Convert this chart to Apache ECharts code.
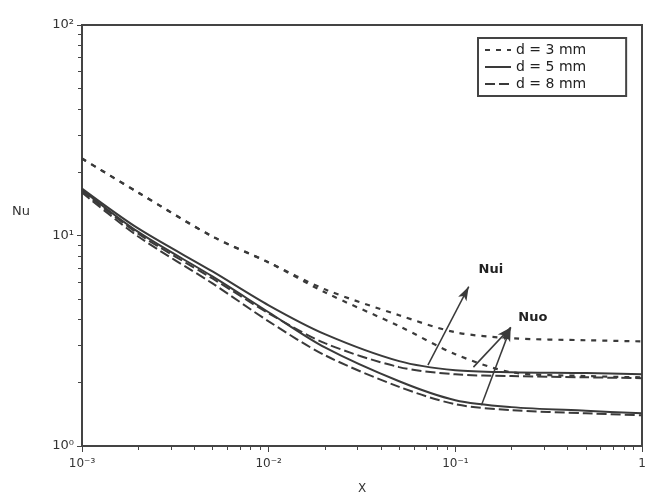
<!DOCTYPE html>
<html><head><meta charset="utf-8">
<script src="https://cdn.jsdelivr.net/npm/echarts@6/dist/echarts.min.js"></script>
<style>html,body{margin:0;padding:0;background:#fff}#c{width:653px;height:504px}</style>
</head><body><div id="c"></div>
<script>
// x positions (X)
const xs = [0.001, 0.002, 0.005, 0.01, 0.02, 0.05, 0.1, 0.2, 0.5, 1];
// Nu values
const nui3 = [23.2, 16.0, 9.89, 7.45, 5.55, 4.18, 3.47, 3.25, 3.18, 3.14];
const nuo3 = [23.2, 16.0, 9.89, 7.45, 5.37, 3.71, 2.73, 2.24, 2.15, 2.12];
const nui5 = [16.7, 10.8, 6.75, 4.66, 3.40, 2.53, 2.29, 2.24, 2.22, 2.19];
const nuo5 = [16.5, 10.4, 6.39, 4.32, 2.94, 2.03, 1.65, 1.53, 1.47, 1.43];
const nui8 = [16.3, 10.2, 6.25, 4.27, 3.08, 2.37, 2.19, 2.15, 2.12, 2.10];
const nuo8 = [16.0, 9.89, 5.92, 3.91, 2.70, 1.91, 1.58, 1.48, 1.43, 1.40];
const legendNames = ['d = 3 mm', 'd = 5 mm', 'd = 8 mm'];
const xTickLabels = {'0.001': '10\u207B\u00B3', '0.01': '10\u207B\u00B2', '0.1': '10\u207B\u00B9', '1': '1'};
const yTickLabels = {'1': '10\u2070', '10': '10\u00B9', '100': '10\u00B2'};
// annotation arrows (data space)
const nuiLabel = [0.155, 6.9];
const nuiArrow = [[0.118, 5.72], [0.0713, 2.42]];
const nuoLabel = [0.26, 4.08];
const nuoArrows = [[[0.198, 3.66], [0.125, 2.37]], [[0.198, 3.66], [0.138, 1.56]]];

const pair = ys => xs.map((x, i) => [x, ys[i]]);
const col = '#3a3a3a';
const styles = {
  'd = 3 mm': {type: [5, 6], width: 2.2},
  'd = 5 mm': {type: 'solid', width: 2},
  'd = 8 mm': {type: [10, 4], width: 2}
};
function mk(name, ys) {
  return {type: 'line', name, data: pair(ys), smooth: 0.3, symbol: 'none',
    lineStyle: {color: col, width: styles[name].width, type: styles[name].type},
    itemStyle: {color: col}, z: 3};
}
const series = [
  mk('d = 3 mm', nui3), mk('d = 3 mm', nuo3),
  mk('d = 5 mm', nui5), mk('d = 5 mm', nuo5),
  mk('d = 8 mm', nui8), mk('d = 8 mm', nuo8),
  {type: 'line', name: 'annot', data: [], symbol: 'none',
   markLine: {silent: true, symbol: ['arrow', 'none'], symbolSize: [7, 14],
     lineStyle: {color: col, type: 'solid', width: 1.5},
     label: {show: false},
     data: [
       [{coord: nuiArrow[0]}, {coord: nuiArrow[1]}],
       [{coord: nuoArrows[0][0]}, {coord: nuoArrows[0][1]}],
       [{coord: nuoArrows[1][0]}, {coord: nuoArrows[1][1]}]
     ]},
   markPoint: {symbol: 'circle', symbolSize: 0, silent: true,
     label: {show: true, color: '#222', fontSize: 13, fontFamily: 'DejaVu Sans', fontWeight: 'bold',
       formatter: p => p.name},
     data: [{name: 'Nui', coord: nuiLabel}, {name: 'Nuo', coord: nuoLabel}]}
  }
];
const chart = echarts.init(document.getElementById('c'));
chart.setOption({
  animation: false,
  backgroundColor: '#fff',
  textStyle: {fontFamily: 'DejaVu Sans'},
  title: {text: 'Nu', left: 12, top: 205, padding: 0,
    textStyle: {fontSize: 13, fontWeight: 'normal', color: '#333', fontFamily: 'DejaVu Sans'}},
  grid: {left: 82, right: 11, top: 25, bottom: 58, show: true, borderColor: '#444', borderWidth: 2},
  legend: {data: legendNames, left: 478, top: 38, orient: 'vertical', itemGap: 3, itemWidth: 26, itemHeight: 12,
    itemStyle: {opacity: 0},
    backgroundColor: '#fff', borderColor: '#444', borderWidth: 2, padding: [5, 40, 5, 6],
    textStyle: {fontSize: 14, color: '#222', fontFamily: 'DejaVu Sans'}},
  xAxis: {type: 'log', logBase: 10, min: 0.001, max: 1, name: 'X', nameLocation: 'middle', nameGap: 37,
    nameTextStyle: {fontSize: 12, color: '#333'},
    axisLine: {lineStyle: {color: '#444', width: 2}},
    axisTick: {show: true, length: 6, lineStyle: {color: '#444'}},
    minorTick: {show: true, splitNumber: 9, length: 4},
    splitLine: {show: false},
    axisLabel: {color: '#333', fontSize: 12, margin: 12, formatter: v => xTickLabels[String(+v.toPrecision(6))] || ''}},
  yAxis: {type: 'log', logBase: 10, min: 1, max: 100,
    axisLine: {lineStyle: {color: '#444', width: 2}},
    axisTick: {show: true, length: 5, lineStyle: {color: '#444'}},
    minorTick: {show: true, splitNumber: 9, length: 4},
    splitLine: {show: false},
    axisLabel: {color: '#333', fontSize: 13, margin: 8, formatter: v => yTickLabels[String(+v.toPrecision(6))] || ''}},
  series
});
</script></body></html>
